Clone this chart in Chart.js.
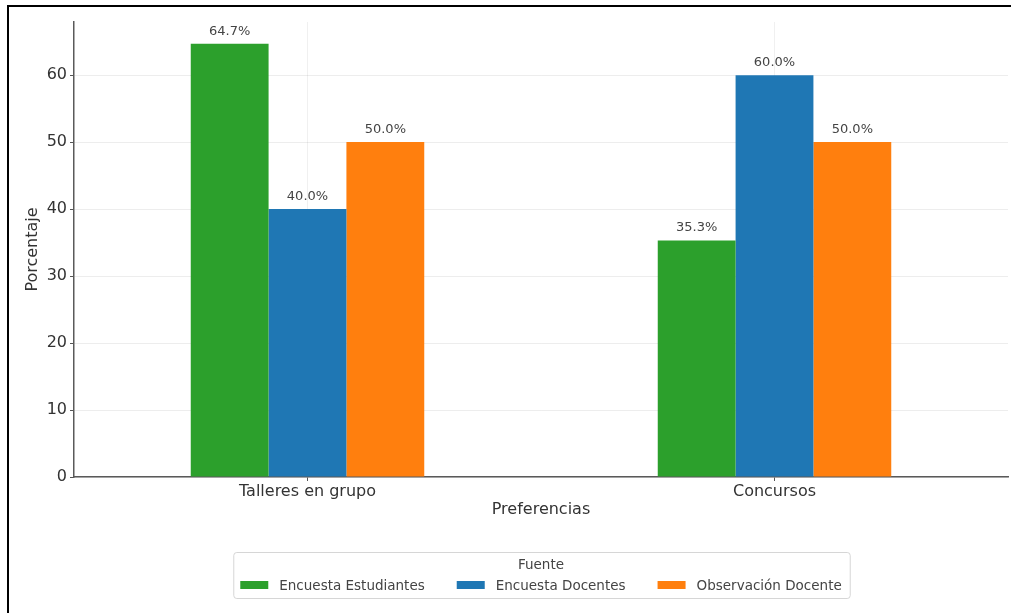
<!DOCTYPE html>
<html>
<head>
<meta charset="utf-8">
<script src="https://cdn.jsdelivr.net/npm/chart.js@4"></script>
<style>
  html, body { margin: 0; padding: 0; background: #ffffff; }
  canvas { display: block; }
</style>
</head>
<body>
<canvas id="c" width="1011" height="613"></canvas>
<script>
const categories = ['Talleres en grupo', 'Concursos'];
const seriesNames = ['Encuesta Estudiantes', 'Encuesta Docentes', 'Observación Docente'];
const encuestaEstudiantes = [64.7, 35.3];
const encuestaDocentes = [40.0, 60.0];
const observacionDocente = [50.0, 50.0];
const yTickValues = [0, 10, 20, 30, 40, 50, 60];
const xAxisTitle = 'Preferencias';
const yAxisTitle = 'Porcentaje';
const legendTitle = 'Fuente';

const seriesColors = ['#2ca02c', '#1f77b4', '#ff7f0e'];
const FONT = '"DejaVu Sans", sans-serif';

const allValues = encuestaEstudiantes.concat(encuestaDocentes, observacionDocente);
const yMax = Math.max.apply(null, allValues) * 1.05;

const bgPlugin = {
  id: 'bg',
  beforeDraw(chart) {
    const ctx = chart.ctx;
    ctx.save();
    ctx.fillStyle = '#ffffff';
    ctx.fillRect(0, 0, chart.width, chart.height);
    ctx.restore();
  }
};

const labelPlugin = {
  id: 'barLabels',
  afterDatasetsDraw(chart) {
    const ctx = chart.ctx;
    ctx.save();
    ctx.font = '13px ' + FONT;
    ctx.fillStyle = '#444444';
    ctx.textAlign = 'center';
    ctx.textBaseline = 'bottom';
    chart.data.datasets.forEach((ds, i) => {
      const meta = chart.getDatasetMeta(i);
      meta.data.forEach((el, j) => {
        ctx.fillText(ds.data[j].toFixed(1) + '%', el.x, el.y - 6);
      });
    });
    ctx.restore();
  }
};

const legendPlugin = {
  id: 'customLegend',
  afterDraw(chart) {
    const ctx = chart.ctx;
    const area = chart.chartArea;
    const cx = (area.left + area.right) / 2;
    ctx.save();
    ctx.font = '13.5px ' + FONT;
    const boxW = 28, boxH = 8, gapText = 11, gapItem = 32;
    const widths = chart.data.datasets.map(ds => ctx.measureText(ds.label).width);
    let total = 0;
    widths.forEach((w, i) => { total += boxW + gapText + w + (i < widths.length - 1 ? gapItem : 0); });
    const startX = cx - total / 2;
    const top = 552, bottom = 598;
    const left = startX - 7, right = startX + total + 8;
    // border
    ctx.fillStyle = 'rgba(255,255,255,0.8)';
    ctx.strokeStyle = '#d6d6d6';
    ctx.lineWidth = 1;
    ctx.beginPath();
    if (ctx.roundRect) ctx.roundRect(left + 0.5, top + 0.5, right - left, bottom - top, 3);
    else ctx.rect(left + 0.5, top + 0.5, right - left, bottom - top);
    ctx.fill();
    ctx.stroke();
    // title
    ctx.fillStyle = '#444444';
    ctx.textAlign = 'center';
    ctx.textBaseline = 'middle';
    ctx.fillText(legendTitle, cx, 565);
    // items
    let x = startX;
    const rowY = 586;
    chart.data.datasets.forEach((ds, i) => {
      ctx.fillStyle = ds.backgroundColor;
      ctx.fillRect(x, rowY - boxH / 2 - 1, boxW, boxH);
      ctx.fillStyle = '#444444';
      ctx.textAlign = 'left';
      ctx.fillText(ds.label, x + boxW + gapText, rowY);
      x += boxW + gapText + widths[i] + gapItem;
    });
    ctx.restore();
  }
};

const framePlugin = {
  id: 'frame',
  afterDraw(chart) {
    const ctx = chart.ctx;
    ctx.save();
    ctx.strokeStyle = '#000000';
    ctx.lineWidth = 2;
    ctx.beginPath();
    ctx.moveTo(8, chart.height);
    ctx.lineTo(8, 6);
    ctx.lineTo(chart.width, 6);
    ctx.stroke();
    ctx.restore();
  }
};

const seriesData = [encuestaEstudiantes, encuestaDocentes, observacionDocente];

new Chart(document.getElementById('c'), {
  type: 'bar',
  data: {
    labels: categories,
    datasets: seriesNames.map((name, i) => ({
      label: name,
      data: seriesData[i],
      backgroundColor: seriesColors[i],
      borderWidth: 0,
      categoryPercentage: 0.5,
      barPercentage: 1.0
    }))
  },
  options: {
    responsive: false,
    animation: false,
    layout: { padding: { top: 22, right: 3, bottom: 94, left: 0 } },
    plugins: {
      legend: { display: false },
      tooltip: { enabled: false },
      title: { display: false }
    },
    scales: {
      x: {
        type: 'category',
        offset: true,
        grid: {
          display: true,
          offset: false,
          color: 'rgba(0,0,0,0.06)',
          drawTicks: true,
          tickLength: 4,
          tickColor: '#555555'
        },
        border: { display: true, color: '#5a5a5a', width: 1.5 },
        ticks: {
          color: '#333333',
          font: { family: FONT, size: 16 },
          padding: 1,
          maxRotation: 0
        },
        title: {
          display: true,
          text: xAxisTitle,
          color: '#333333',
          font: { family: FONT, size: 16 },
          padding: { top: 0, bottom: 0 }
        },
        afterFit(scale) { scale.height = 42; }
      },
      y: {
        min: 0,
        max: yMax,
        grid: {
          color: 'rgba(0,0,0,0.07)',
          drawTicks: true,
          tickLength: 4,
          tickColor: '#555555'
        },
        border: { display: true, color: '#5a5a5a', width: 1.5 },
        ticks: {
          color: '#333333',
          font: { family: FONT, size: 16 },
          padding: 3,
          includeBounds: false
        },
        afterBuildTicks(scale) {
          scale.ticks = yTickValues.map(v => ({ value: v }));
        },
        title: {
          display: true,
          text: yAxisTitle,
          color: '#333333',
          font: { family: FONT, size: 16 },
          padding: { top: 23, bottom: 0 }
        },
        afterFit(scale) { scale.width = 74; }
      }
    }
  },
  plugins: [bgPlugin, labelPlugin, legendPlugin, framePlugin]
});
</script>
</body>
</html>
